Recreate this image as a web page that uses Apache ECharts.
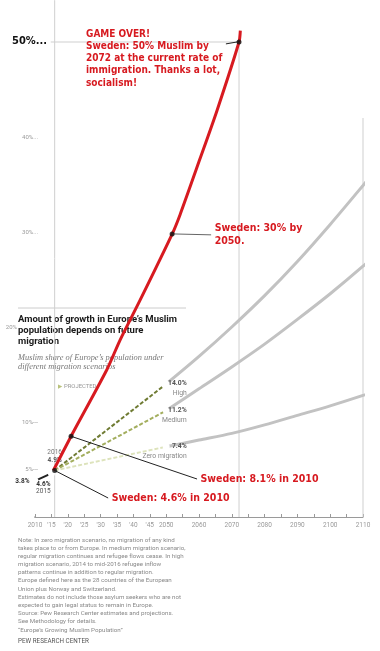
<!DOCTYPE html>
<html><head><meta charset="utf-8">
<script src="https://cdn.jsdelivr.net/npm/echarts@6/dist/echarts.min.js"></script>
<style>html,body{margin:0;padding:0;background:#fff}#c{width:380px;height:651px}</style>
</head><body><div id="c"></div>
<script>
// ---- data ----
const swedenYears = [2015.6, 2021, 2031.9, 2035.9, 2042, 2051.7, 2054.2, 2060.3, 2065.5, 2072.2, 2072.6];
const swedenShare = [4.9, 8.5, 15.5, 18.6, 22.8, 29.7, 31.8, 37.7, 42.8, 50, 51.2];
const swedenDotYears = [2016, 2021, 2051.8, 2072.2];
const swedenDotShare = [4.9, 8.5, 29.8, 50];

const histYears = [2010, 2015];
const histShare = [3.8, 4.6];
const startYear = 2016, startShare = 4.9;

const projYears = [2016, 2050];
const highProj = [4.9, 14.0];
const mediumProj = [4.9, 11.2];
const zeroProj = [4.9, 7.4];
const scenarioNames = ['High', 'Medium', 'Zero migration'];
const scenarioLabels = ['14.0%', '11.2%', '7.4%'];

const extYears = [2050, 2060, 2070, 2080, 2090, 2100, 2110, 2115];
const highExt = [14.0, 16.9, 20.0, 23.3, 26.9, 30.8, 34.9, 37.0];
const mediumExt = [11.2, 13.5, 15.8, 18.2, 20.8, 23.5, 26.4, 28.0];
const zeroExt = [7.4, 8.1, 8.8, 9.7, 10.7, 11.7, 12.8, 13.4];

const xTickYears = [2010, 2015, 2020, 2025, 2030, 2035, 2040, 2045, 2050, 2060, 2070, 2080, 2090, 2100, 2110];
const xTickLabels = ['2010', "'15", "'20", "'25", "'30", "'35", "'40", "'45", '2050', '2060', '2070', '2080', '2090', '2100', '2110'];
const yTickValues = [5, 10, 20, 30, 40, 50];
const yTickLabels = ['5%---', '10%---', '20%', '30%...', '40%...', '50%...'];

// reference guide lines (data space)
const guideLines = [
  [[2016, 0], [2016, 54.4]],
  [[2072.2, 0], [2072.2, 50]],
  [[2110, 0], [2110, 42]],
  [[2014.8, 50], [2072.5, 50]]
];
const axisLead = [[2007, 0], [2010, 0]];
// annotations: anchor point, text end point, text
const annoFrom = [[2021, 8.5], [2016, 4.9], [2051.8, 29.8]];
const annoTo = [[2059.4, 4.0], [2032.3, 2.0], [2063.7, 29.7]];
const annoText = ['Sweden: 8.1% in 2010', 'Sweden: 4.6% in 2010', 'Sweden: 30% by\n2050.'];
const arrowFrom = [2068.2, 49.8], arrowTo = [2072.4, 50.05];
const gameOverText = 'GAME OVER!\nSweden: 50% Muslim by\n2072 at the current rate of\nimmigration. Thanks a lot,\nsocialism!';

const noteLines = [
  'Note: In zero migration scenario, no migration of any kind',
  'takes place to or from Europe. In medium migration scenario,',
  'regular migration continues and refugee flows cease. In high',
  'migration scenario, 2014 to mid-2016 refugee inflow',
  'patterns continue in addition to regular migration.',
  'Europe defined here as the 28 countries of the European',
  'Union plus Norway and Switzerland.',
  'Estimates do not include those asylum seekers who are not',
  'expected to gain legal status to remain in Europe.',
  'Source: Pew Research Center estimates and projections.',
  'See Methodology for details.',
  '\u201cEurope\u2019s Growing Muslim Population\u201d'
];

// ---- styles ----
const RED = '#d71a20';
const REDFONT = "'DejaVu Sans Condensed', 'DejaVu Sans', sans-serif";
const PEWFONT = "Roboto, 'Liberation Sans', sans-serif";
const zip = (xs, ys) => xs.map((x, i) => [x, ys[i]]);

const series = [];
guideLines.forEach(g => series.push({
  type: 'line', data: g, symbol: 'none', silent: true, clip: false, z: 1,
  lineStyle: { color: '#cfcfcf', width: 1 }
}));
series.push({
  type: 'line', data: axisLead, symbol: 'none', silent: true, clip: false, z: 1,
  lineStyle: { color: '#9a9a9a', width: 1 }
});
[highExt, mediumExt, zeroExt].forEach(ys => series.push({
  type: 'line', data: zip(extYears, ys), symbol: 'none', smooth: 0.3, clip: false, z: 3,
  lineStyle: { color: '#c2c2c2', width: 3 }
}));
const projColors = ['#6f7b33', '#a3ae5e', '#dde3bc'];
[highProj, mediumProj, zeroProj].forEach((vals, i) => {
  const d = zip(projYears, vals);
  series.push({
    type: 'line', z: 4, clip: false,
    data: [
      { value: d[0], symbol: 'none' },
      { value: d[1], symbol: 'emptyCircle', symbolSize: 5,
        itemStyle: { color: '#fff', borderColor: '#aaa', borderWidth: 1 },
        label: { show: true, position: 'right', align: 'right', verticalAlign: 'middle',
          distance: 2, offset: [15, 4.5],
          formatter: '{v|' + scenarioLabels[i] + '}\n{n|' + scenarioNames[i] + '}',
          rich: {
            v: { fontFamily: PEWFONT, fontSize: 6.8, fontWeight: 'bold', color: '#555', align: 'right', lineHeight: 9.5 },
            n: { fontFamily: PEWFONT, fontSize: 6.8, color: '#888', align: 'right', lineHeight: 9.5 }
          } } }
    ],
    lineStyle: { color: projColors[i], width: 2, type: [4, 2] }
  });
});
// history
series.push({
  type: 'line', z: 4, clip: false,
  data: histYears.map((y, i) => ({
    value: [y, histShare[i]],
    label: i === 0 ? { show: true, position: 'left', distance: 2, formatter: '3.8%',
      fontFamily: PEWFONT, fontSize: 6.5, fontWeight: 'bold', color: '#333' }
      : { show: true, position: 'bottom', distance: 4, offset: [-8, 0],
      formatter: '{v|4.6%}\n{n|2015}',
      rich: { v: { fontFamily: PEWFONT, fontSize: 6.5, fontWeight: 'bold', color: '#333', lineHeight: 7 },
              n: { fontFamily: PEWFONT, fontSize: 6.5, color: '#555', lineHeight: 7 } } }
  })),
  symbol: 'emptyCircle', symbolSize: 5,
  itemStyle: { color: '#fff', borderColor: '#222', borderWidth: 1 },
  lineStyle: { color: '#222', width: 2 }
});
// start point label (2016)
series.push({
  type: 'scatter', z: 2, data: [[startYear, startShare]], symbolSize: 1,
  itemStyle: { color: 'rgba(0,0,0,0)' },
  label: { show: true, position: 'top', distance: 6,
    formatter: '{n|2016}\n{v|4.9%}',
    rich: { v: { fontFamily: PEWFONT, fontSize: 6.5, fontWeight: 'bold', color: '#333', lineHeight: 7.5 },
            n: { fontFamily: PEWFONT, fontSize: 6.5, color: '#555', lineHeight: 7.5 } } }
});
// red Sweden curve
series.push({
  type: 'line', data: zip(swedenYears, swedenShare), symbol: 'none', smooth: 0.25, clip: false, z: 5,
  lineStyle: { color: RED, width: 3 }
});
// annotation connectors
annoFrom.forEach((p, i) => series.push({
  type: 'line', z: 6, clip: false, showSymbol: true,
  lineStyle: { color: i === 2 ? '#666' : '#222', width: 1 },
  data: [
    { value: p, symbol: 'none' },
    { value: annoTo[i], symbol: 'circle', symbolSize: 1, itemStyle: { color: 'rgba(0,0,0,0)' },
      label: { show: true, position: 'right', distance: 3,
      formatter: annoText[i], fontFamily: REDFONT, fontWeight: 'bold',
      fontSize: 10.5, lineHeight: 12.5, color: RED } }
  ]
}));
series.push({
  type: 'line', z: 6, clip: false, data: [arrowFrom, arrowTo], symbol: 'none',
  lineStyle: { color: '#222', width: 1 }
});
// dots on curve
series.push({
  type: 'scatter', z: 7, clip: false, data: zip(swedenDotYears, swedenDotShare),
  symbolSize: 5, itemStyle: { color: '#111' }
});

const graphic = [
  { type: 'text', x: 86, y: 28.5, z: 10, style: { text: gameOverText, fill: RED,
    fontFamily: REDFONT, fontWeight: 'bold', fontSize: 10, lineHeight: 12.1, verticalAlign: 'top' } },
  { type: 'line', shape: { x1: 18, y1: 308, x2: 186, y2: 308 }, style: { stroke: '#cccccc', lineWidth: 1 } },
  { type: 'text', x: 18, y: 314, style: { text: 'Amount of growth in Europe\u2019s Muslim\npopulation depends on future\nmigration',
    fill: '#1a1a1a', fontFamily: PEWFONT, fontWeight: 'bold', fontSize: 9.5, lineHeight: 11, verticalAlign: 'top' } },
  { type: 'text', x: 18, y: 352.6, style: { text: 'Muslim share of Europe\u2019s population under\ndifferent migration scenarios',
    fill: '#777', fontFamily: "'Liberation Serif', serif", fontStyle: 'italic', fontSize: 8.4, lineHeight: 9.4, verticalAlign: 'top' } },
  { type: 'text', x: 58, y: 386.7, style: { text: '\u25B6', fill: '#b9c27c', fontFamily: "'DejaVu Sans'", fontSize: 5.5, verticalAlign: 'middle' } },
  { type: 'text', x: 64, y: 386.7, style: { text: 'PROJECTED', fill: '#999', fontFamily: PEWFONT, fontSize: 5.9, verticalAlign: 'middle' } },
  { type: 'text', x: 18, y: 536, style: { text: noteLines.join('\n'), fill: '#8a8a8a',
    fontFamily: PEWFONT, fontSize: 6.2, lineHeight: 8.17, verticalAlign: 'top' } },
  { type: 'text', x: 18, y: 641.7, style: { text: 'PEW RESEARCH CENTER', fill: '#555',
    fontFamily: PEWFONT, fontSize: 6.3, verticalAlign: 'middle' } }
];

const chart = echarts.init(document.getElementById('c'), null, { renderer: 'canvas' });
chart.setOption({
  animation: false,
  backgroundColor: '#fff',
  grid: { left: 35, right: 17, top: 42, bottom: 134, containLabel: false, outerBoundsMode: 'none' },
  xAxis: {
    type: 'value', min: 2010, max: 2110, interval: 5,
    axisLine: { show: true, lineStyle: { color: '#9a9a9a', width: 1 } },
    axisTick: { show: true, inside: true, length: 3, lineStyle: { color: '#9a9a9a' } },
    splitLine: { show: false },
    axisLabel: { show: true, margin: 5, hideOverlap: false, showMinLabel: true, showMaxLabel: true,
      color: '#999', fontFamily: PEWFONT, fontSize: 6.5,
      formatter: v => { const i = xTickYears.indexOf(Math.round(v)); return i >= 0 ? xTickLabels[i] : ''; } }
  },
  yAxis: {
    type: 'value', min: 0, max: 50, interval: 5,
    axisLine: { show: false }, axisTick: { show: false }, splitLine: { show: false },
    axisLabel: { show: true, margin: -12, hideOverlap: false, showMaxLabel: true,
      formatter: v => {
        const i = yTickValues.indexOf(Math.round(v));
        if (i < 0) return '';
        const t = yTickLabels[i];
        if (v === 50) return '{b|' + t + '}';
        if (v === 20) return '{f|' + t + '}';
        return '{s|' + t + '}';
      },
      rich: {
        b: { fontFamily: REDFONT, fontWeight: 'bold', fontSize: 11, color: '#111', padding: [0, 0, 2, 0] },
        s: { fontFamily: PEWFONT, fontSize: 6, color: '#9a9a9a', padding: [0, 9, 0, 0] },
        f: { fontFamily: PEWFONT, fontSize: 6, color: '#9a9a9a', padding: [0, 30, 0, 0] }
      } }
  },
  series: series,
  graphic: graphic
});
</script>
</body></html>
